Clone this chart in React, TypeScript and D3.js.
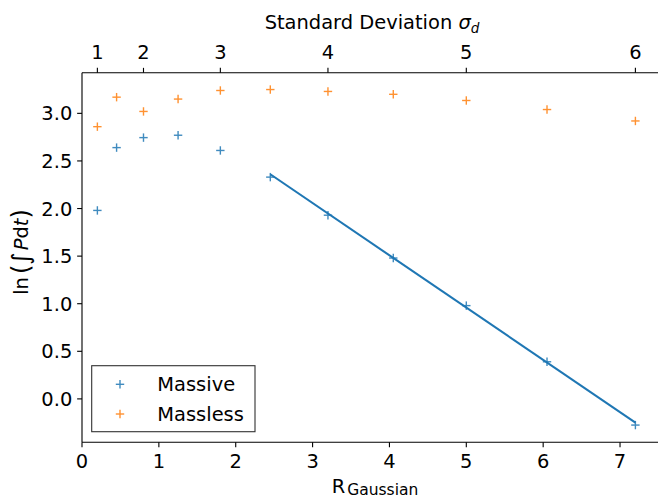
import React from 'react'
import * as d3 from 'd3'

// R values of each run (x), one per standard deviation step
const rValues = [0.2, 0.45, 0.8, 1.25, 1.8, 2.45, 3.2, 4.05, 5.0, 6.05, 7.2]
const massive = [1.98, 2.64, 2.745, 2.77, 2.61, 2.33, 1.93, 1.48, 0.98, 0.39, -0.275]
const massless = [2.86, 3.17, 3.02, 3.15, 3.24, 3.25, 3.23, 3.2, 3.135, 3.04, 2.92]

// linear fit drawn over the massive tail
const fitR = [2.45, 7.2]
const fitY = [2.36, -0.25]

// bottom and left ticks
const xTicks = [0, 1, 2, 3, 4, 5, 6, 7]
const yTicks = [0, 0.5, 1, 1.5, 2, 2.5, 3]
// top axis: sigma labels and where they sit in R
const sigmaLabels = ['1', '2', '3', '4', '5', '6']
const sigmaTickR = [0.2, 0.8, 1.8, 3.2, 5.0, 7.2]

const series = [
  { name: 'Massive', values: massive, color: '#1f77b4' },
  { name: 'Massless', values: massless, color: '#ff7f0e' },
]

const W = 658
const H = 504
const margin = { top: 72.7, left: 82, bottom: 442.3, right: 662.3 }
const font = '"DejaVu Sans", sans-serif'
const fs = 19.44
const tick = 4.86

const Plus = ({ x, y, color }: { x: number; y: number; color: string }) => (
  <g stroke={color} strokeWidth={1.4} opacity={0.85}>
    <line x1={x - 4.2} x2={x + 4.2} y1={y} y2={y} />
    <line x1={x} x2={x} y1={y - 4.2} y2={y + 4.2} />
  </g>
)

export default function App() {
  const x = d3.scaleLinear().domain([0, 7.55]).range([margin.left, margin.right])
  const y = d3.scaleLinear().domain([-0.456, 3.427]).range([margin.bottom, margin.top])

  const fitLine = d3.line<number>()
    .x((_, i) => x(fitR[i]))
    .y(d => y(d))

  return (
    <svg width={W} height={H} style={{ position: 'absolute', left: 0, top: 0, background: '#fff' }}
      fontFamily={font}>
      {/* fit line */}
      <path d={fitLine(fitY) || ''} fill="none" stroke="#1f77b4" strokeWidth={2.08} />

      {/* markers */}
      {series.map(s => (
        <g key={s.name}>
          {s.values.map((v, i) => (
            <Plus key={i} x={x(rValues[i])} y={y(v)} color={s.color} />
          ))}
        </g>
      ))}

      {/* spines */}
      <g stroke="#000" strokeWidth={1.11} fill="none">
        <line x1={margin.left} x2={margin.left} y1={margin.top} y2={margin.bottom} />
        <line x1={margin.right} x2={margin.right} y1={margin.top} y2={margin.bottom} />
        <line x1={margin.left} x2={margin.right} y1={margin.top} y2={margin.top} />
        <line x1={margin.left} x2={margin.right} y1={margin.bottom} y2={margin.bottom} />
      </g>

      {/* bottom axis */}
      {xTicks.map(t => (
        <g key={'x' + t}>
          <line x1={x(t)} x2={x(t)} y1={margin.bottom} y2={margin.bottom + tick} stroke="#000" strokeWidth={1.11} />
          <text x={x(t)} y={468} textAnchor="middle" fontSize={fs}>{t}</text>
        </g>
      ))}

      {/* left axis */}
      {yTicks.map(t => (
        <g key={'y' + t}>
          <line x1={margin.left - tick} x2={margin.left} y1={y(t)} y2={y(t)} stroke="#000" strokeWidth={1.11} />
          <text x={margin.left - 2 * tick} y={y(t)} dy="0.36em" textAnchor="end" fontSize={fs}>{d3.format('.1f')(t)}</text>
        </g>
      ))}

      {/* top axis */}
      {sigmaLabels.map((lab, i) => (
        <g key={'s' + lab}>
          <line x1={x(sigmaTickR[i])} x2={x(sigmaTickR[i])} y1={margin.top - tick} y2={margin.top} stroke="#000" strokeWidth={1.11} />
          <text x={x(sigmaTickR[i])} y={59.3} textAnchor="middle" fontSize={fs}>{lab}</text>
        </g>
      ))}

      {/* axis titles */}
      <text x={372} y={29.4} textAnchor="middle" fontSize={fs}>
        Standard Deviation <tspan fontStyle="italic">σ</tspan>
        <tspan fontStyle="italic" fontSize={13.6} dy={4}>d</tspan>
      </text>
      <text x={375} y={493} textAnchor="middle" fontSize={fs}>
        R<tspan fontSize={15.5} dx={2} dy={2}>Gaussian</tspan>
      </text>
      <text transform="translate(28.3,252) rotate(-90)" textAnchor="middle" fontSize={fs}>
        ln<tspan dx={3} fontSize={24} dy={1}>(</tspan>
        <tspan fontSize={24}>∫</tspan>
        <tspan fontStyle="italic" dx={2} dy={-1}>P</tspan>
        <tspan>d</tspan>
        <tspan fontStyle="italic">t</tspan>
        <tspan fontSize={24} dy={1}>)</tspan>
      </text>

      {/* legend */}
      <rect x={91.7} y={365.7} width={163.3} height={66} fill="#fff" stroke="#333" strokeWidth={1.11} />
      {series.map((s, i) => (
        <g key={'l' + s.name}>
          <Plus x={120} y={384.3 + i * 29.7} color={s.color} />
          <text x={157.3} y={384.3 + i * 29.7} dy="0.36em" fontSize={fs}>{s.name}</text>
        </g>
      ))}
    </svg>
  )
}
